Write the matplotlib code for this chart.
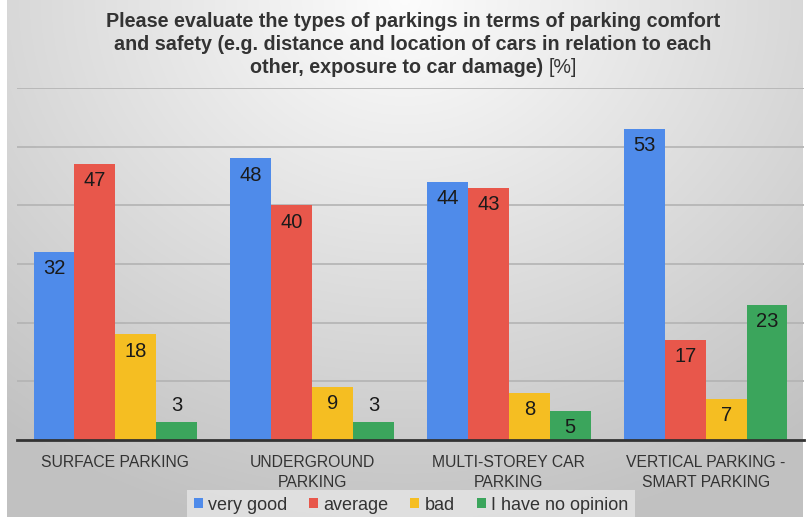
import matplotlib.pyplot as plt
import numpy as np

categories = ["SURFACE PARKING", "UNDERGROUND\nPARKING", "MULTI-STOREY CAR\nPARKING",
              "VERTICAL PARKING -\nSMART PARKING"]
series = ["very good", "average", "bad", "I have no opinion"]
very_good = [32, 48, 44, 53]
average = [47, 40, 43, 17]
bad = [18, 9, 8, 7]
no_opinion = [3, 3, 5, 23]
colors = ["#4F8BEA", "#E8574B", "#F5BE22", "#3BA55C"]

plt.rcParams['font.family'] = ['Liberation Sans', 'DejaVu Sans']

fig = plt.figure(figsize=(8.06, 5.17), dpi=100)

# radial gray gradient behind everything (light at top centre)
bg = fig.add_axes([7 / 806, 0, 796 / 806, 1], zorder=0)
yy, xx = np.mgrid[0:1:300j, 0:1:500j]
dist = np.sqrt(((xx - 0.5) * 1.3) ** 2 + (yy * 1.0) ** 2)
shade = np.clip(0.99 - 0.22 * dist, 0.76, 1.0)
bg.imshow(np.dstack([shade] * 3), aspect='auto', extent=[0, 1, 0, 1], origin='upper')
bg.axis('off')

ax = fig.add_axes([17 / 806, 1 - 440 / 517, 787 / 806, (440 - 88) / 517], zorder=1)
ax.patch.set_alpha(0)

x = np.arange(len(categories))
w = 0.208
for i, (vals, name) in enumerate(zip([very_good, average, bad, no_opinion], series)):
    pos = x + (i - 1.5) * w
    ax.bar(pos, vals, width=w, color=colors[i], label=name, zorder=2)
    for px, v in zip(pos, vals):
        off = -12 if v >= 4 else 12
        ax.annotate(str(v), (px, v), xytext=(0, off), textcoords='offset points',
                    ha='center', va='center', fontsize=14.5, color='#1a1a1a', zorder=3)

ax.set_ylim(0, 60)
ax.set_xlim(-0.5, 3.5)
ax.set_yticks([10, 20, 30, 40, 50, 60])
ax.yaxis.grid(True, color='#b3b3b3', linewidth=1.2, zorder=0)
ax.tick_params(axis='y', left=False, labelleft=False)
ax.tick_params(axis='x', bottom=False, pad=7)
ax.set_xticks(x)
ax.set_xticklabels(categories, fontsize=11.3, color='#333333', linespacing=1.45)
for s in ['top', 'right', 'left']:
    ax.spines[s].set_visible(False)
ax.spines['bottom'].set_color('#333333')
ax.spines['bottom'].set_linewidth(2)
ax.set_axisbelow(True)

# title: bold lines plus a regular "[%]" at the end
tkw = dict(fontsize=14.2, color='#333333', va='baseline')
cx = 413 / 806
fig.text(cx, 1 - 27 / 517, "Please evaluate the types of parkings in terms of parking comfort",
         ha='center', fontweight='bold', **tkw)
fig.text(cx, 1 - 50 / 517, "and safety (e.g. distance and location of cars in relation to each",
         ha='center', fontweight='bold', **tkw)
r = fig.canvas.get_renderer()
p1 = fig.text(0, 1 - 73 / 517, "other, exposure to car damage) ", ha='left',
              fontweight='bold', **tkw)
p2 = fig.text(0, 1 - 73 / 517, "[%]", ha='left', **tkw)
w1 = p1.get_window_extent(r).width / fig.bbox.width
w2 = p2.get_window_extent(r).width / fig.bbox.width
x0 = cx - (w1 + w2) / 2
p1.set_x(x0)
p2.set_x(x0 + w1)

leg = fig.legend(loc='center', bbox_to_anchor=(411 / 806, 1 - 505 / 517), ncol=4, frameon=True,
                 fontsize=13, handlelength=0.5, handleheight=0.5, handletextpad=0.3,
                 columnspacing=1.2, borderpad=0.35, fancybox=False)
leg.get_frame().set_facecolor('#e6e6e6')
leg.get_frame().set_edgecolor('none')
for t in leg.get_texts():
    t.set_color('#333333')

fig.savefig('out.png', dpi=100)
